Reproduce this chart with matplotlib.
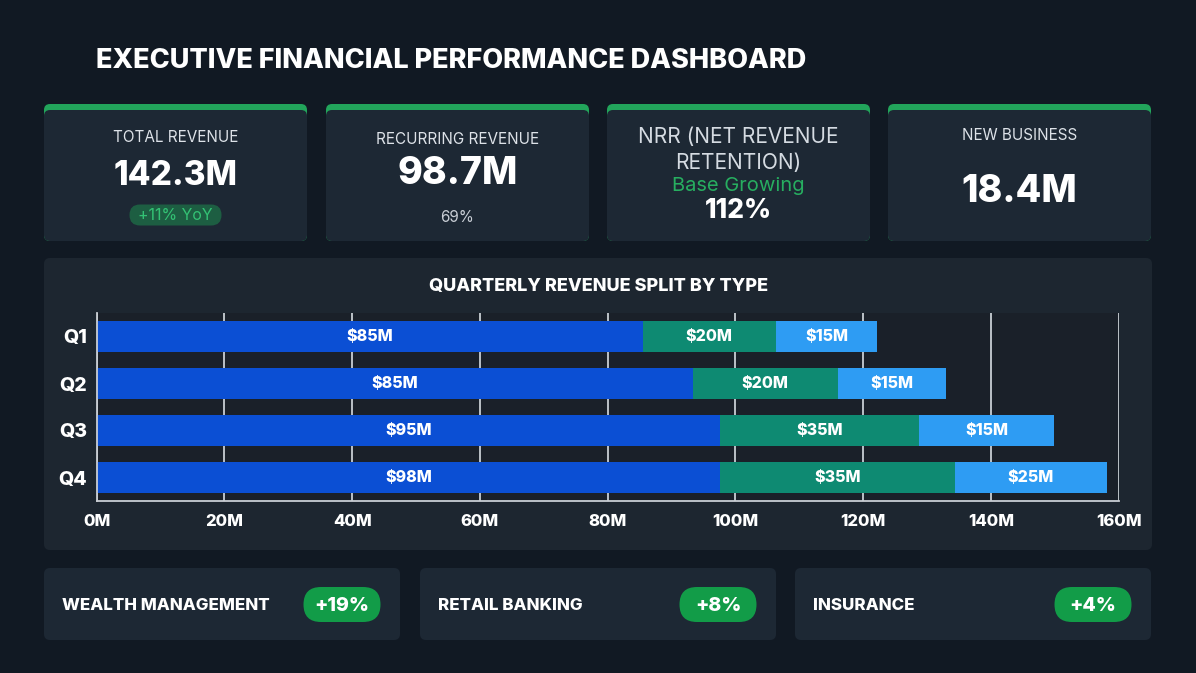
import matplotlib.pyplot as plt
from matplotlib.patches import FancyBboxPatch

plt.rcParams['font.family'] = ['Inter', 'DejaVu Sans']

# %% data
quarters = ["Q1", "Q2", "Q3", "Q4"]
base_rev = [85.5, 93.3, 97.6, 97.6]
mid_rev = [20.8, 22.7, 31.2, 36.7]
top_rev = [15.9, 16.9, 21.0, 23.8]
base_labels = ["$85M", "$85M", "$95M", "$98M"]
mid_labels = ["$20M", "$20M", "$35M", "$35M"]
top_labels = ["$15M", "$15M", "$15M", "$25M"]
x_ticks = [0, 20, 40, 60, 80, 100, 120, 140, 160]
x_ticklabels = ["0M", "20M", "40M", "60M", "80M", "100M", "120M", "140M", "160M"]

kpi_titles = ["TOTAL REVENUE", "RECURRING REVENUE", "NRR (NET REVENUE", "RETENTION)", "NEW BUSINESS"]
kpi_values = ["142.3M", "98.7M", "112%", "18.4M"]
segments = ["WEALTH MANAGEMENT", "RETAIL BANKING", "INSURANCE"]
segment_growth = ["+19%", "+8%", "+4%"]

BG = "#111923"
CARD = "#1d2834"
GREEN = "#22a55b"
W, H = 1196, 673

fig = plt.figure(figsize=(W / 100, H / 100), dpi=100, facecolor=BG)
bg = fig.add_axes([0, 0, 1, 1], zorder=0)
bg.set_xlim(0, W)
bg.set_ylim(H, 0)
bg.axis("off")


def card(x, y, w, h, color=CARD, r=6):
    bg.add_patch(FancyBboxPatch((x, y), w, h, boxstyle=f"round,pad=0,rounding_size={r}",
                                fc=color, ec="none"))


def pill(cx, cy, w, h, color):
    bg.add_patch(FancyBboxPatch((cx - w / 2, cy - h / 2), w, h,
                                boxstyle=f"round,pad=0,rounding_size={h / 2}", fc=color, ec="none"))


bg.text(96, 61, "EXECUTIVE FINANCIAL PERFORMANCE DASHBOARD", color="white",
        fontsize=19.5, fontweight="heavy", ha="left", va="center")

# KPI cards
card_x = [44, 326, 607, 888]
for cx in card_x:
    card(cx, 104, 263, 137, GREEN)
    card(cx, 110, 263, 131, CARD)
mids = [c + 131.5 for c in card_x]

bg.text(mids[0], 137, kpi_titles[0], color="#dde2e8", fontsize=11, ha="center", va="center")
bg.text(mids[0], 176, kpi_values[0], color="white", fontsize=24, fontweight="heavy", ha="center", va="center")
pill(mids[0], 215, 92, 21, "#1d5e42")
bg.text(mids[0], 216, "+11% YoY", color="#33c174", fontsize=11.5, ha="center", va="center")

bg.text(mids[1], 140, kpi_titles[1], color="#dde2e8", fontsize=11, ha="center", va="center")
bg.text(mids[1], 174, kpi_values[1], color="white", fontsize=27, fontweight="heavy", ha="center", va="center")
bg.text(mids[1], 217, "69%", color="#c9ced5", fontsize=11, ha="center", va="center")

bg.text(mids[2], 137, kpi_titles[2], color="#d5dbe2", fontsize=15, ha="center", va="center")
bg.text(mids[2], 163, kpi_titles[3], color="#d5dbe2", fontsize=15, ha="center", va="center")
bg.text(mids[2], 186, "Base Growing", color="#27ae60", fontsize=14.5, ha="center", va="center")
bg.text(mids[2], 211, kpi_values[2], color="white", fontsize=19, fontweight="heavy", ha="center", va="center")

bg.text(mids[3], 136, kpi_titles[4], color="#dde2e8", fontsize=11, ha="center", va="center")
bg.text(mids[3], 192, kpi_values[3], color="white", fontsize=27, fontweight="heavy", ha="center", va="center")

# chart panel
card(44, 258, 1108, 292, "#1d2630")
bg.text(599, 286, "QUARTERLY REVENUE SPLIT BY TYPE", color="white", fontsize=13,
        fontweight="heavy", ha="center", va="center")

# bottom segment cards
seg_x = [44, 420, 795]
for sx, name, g in zip(seg_x, segments, segment_growth):
    card(sx, 568, 356, 72, CARD)
    bg.text(sx + 18, 605, name, color="white", fontsize=12.2, fontweight="heavy", ha="left", va="center")
    pill(sx + 298, 604.5, 77, 35, "#129c48")
    bg.text(sx + 298, 606, g, color="white", fontsize=14, fontweight="heavy", ha="center", va="center")

# %% stacked bar chart
ax = fig.add_axes([96.6 / W, 1 - 501 / H, 1022.2 / W, 188 / H], zorder=1)
ax.set_facecolor("#1a2029")
bh = 0.64
b1 = ax.barh(quarters, base_rev, height=bh, color="#0b4fd4")
b2 = ax.barh(quarters, mid_rev, left=base_rev, height=bh, color="#0e8a72")
left3 = [a + b for a, b in zip(base_rev, mid_rev)]
b3 = ax.barh(quarters, top_rev, left=left3, height=bh, color="#2e9cf3")
for bars, labs in [(b1, base_labels), (b2, mid_labels), (b3, top_labels)]:
    ax.bar_label(bars, labels=labs, label_type="center", color="white",
                 fontsize=11.5, fontweight="heavy")

ax.set_xlim(0, 160)
ax.set_ylim(3.5, -0.5)
ax.set_xticks(x_ticks)
ax.set_xticklabels(x_ticklabels)
ax.grid(axis="x", color="#c9ced4", linewidth=1.3)
ax.set_axisbelow(True)
for s in ["top", "right"]:
    ax.spines[s].set_visible(False)
for s in ["left", "bottom"]:
    ax.spines[s].set_color("#c9ced4")
    ax.spines[s].set_linewidth(1.3)
ax.tick_params(axis="x", length=0, pad=9, colors="white", labelsize=12)
ax.tick_params(axis="y", length=0, pad=7, colors="white", labelsize=14)
for t in ax.get_xticklabels() + ax.get_yticklabels():
    t.set_fontweight("heavy")

fig.savefig("out.png", dpi=100, facecolor=BG)
